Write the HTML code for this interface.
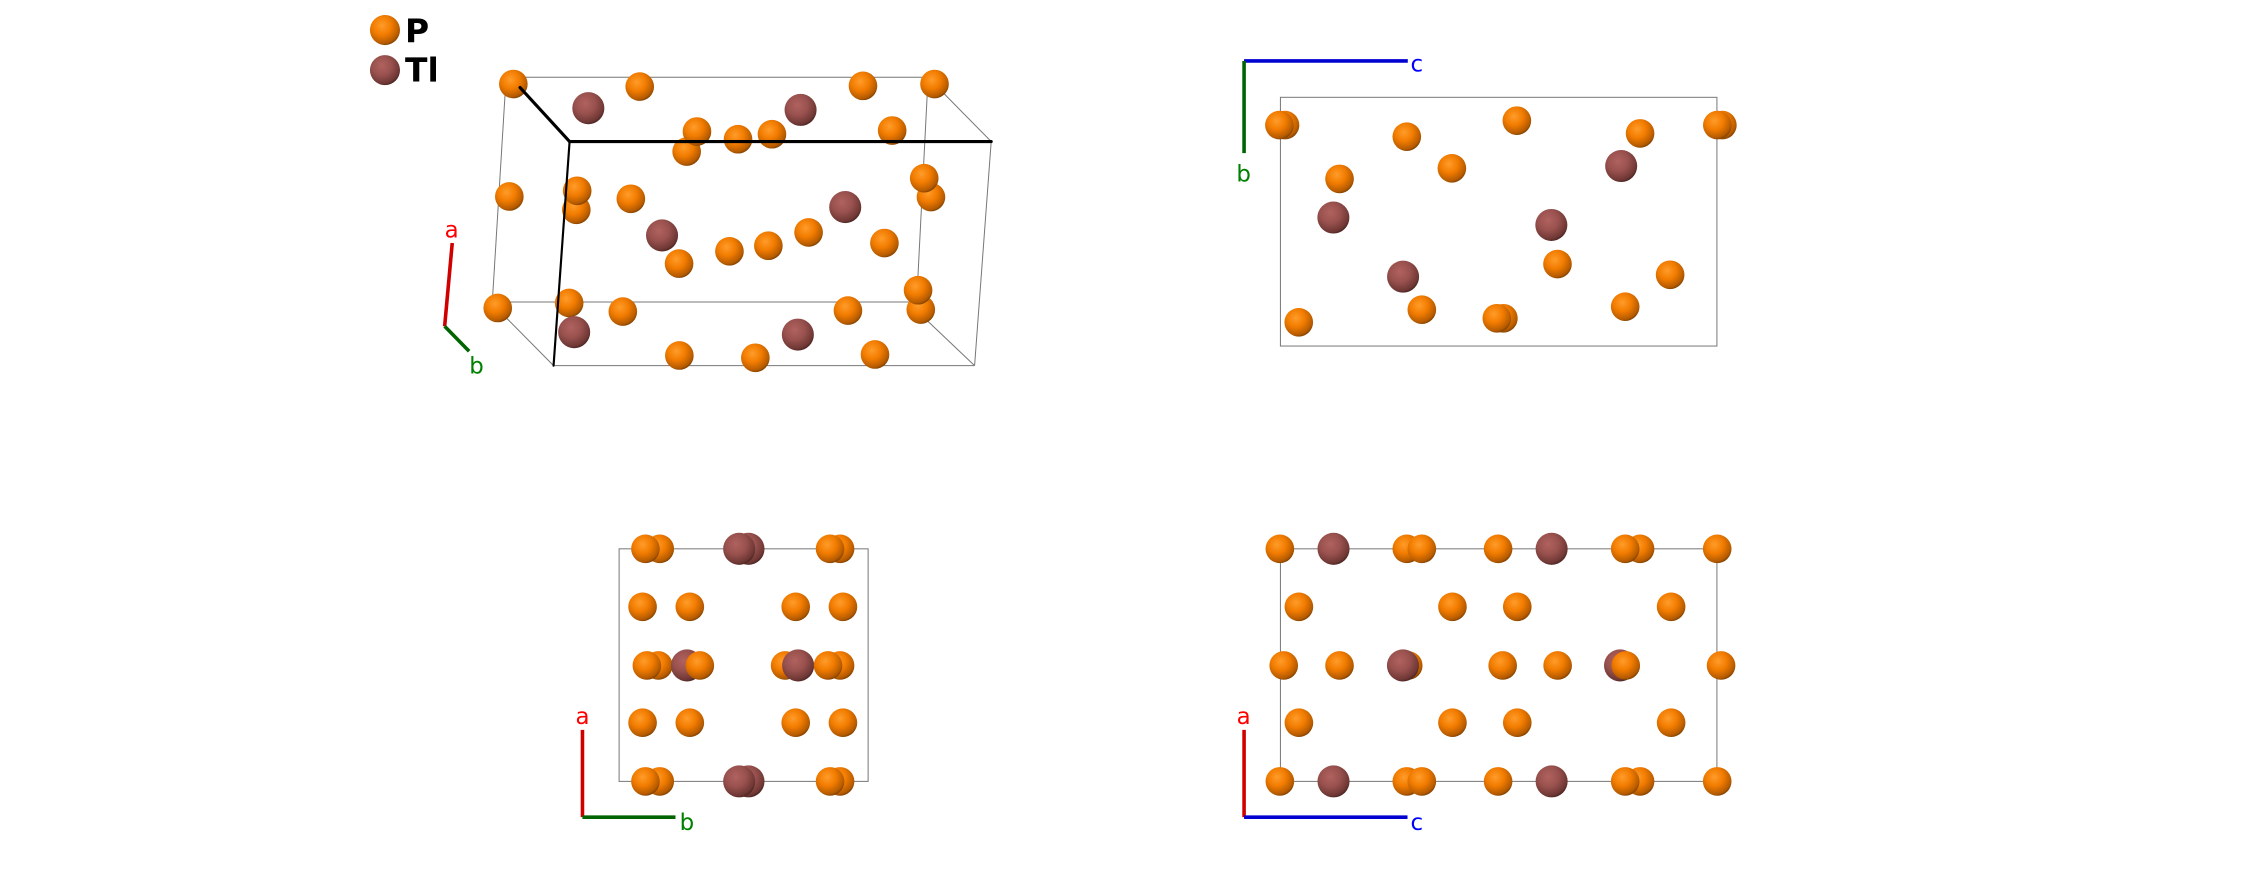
<!DOCTYPE html>
<html><head><meta charset="utf-8"><style>html,body{margin:0;padding:0;background:#fff;}svg{display:block;}</style></head>
<body>
<svg width="2244" height="888" viewBox="0 0 1568 620.5" preserveAspectRatio="none" xmlns="http://www.w3.org/2000/svg" font-family="'DejaVu Sans','Liberation Sans',sans-serif">
<defs>
<radialGradient id="gp" cx="0.4" cy="0.35" r="0.7">
<stop offset="0" stop-color="#ff9c2a"/><stop offset="0.45" stop-color="#f27c00"/><stop offset="0.85" stop-color="#b45a00"/><stop offset="1" stop-color="#6e3800"/></radialGradient>
<radialGradient id="gt" cx="0.4" cy="0.35" r="0.7">
<stop offset="0" stop-color="#b0625f"/><stop offset="0.45" stop-color="#9a524f"/><stop offset="0.85" stop-color="#6e3734"/><stop offset="1" stop-color="#3e1e1c"/></radialGradient>
<symbol id="P" viewBox="-10 -10 20 20" overflow="visible"><circle r="10" fill="url(#gp)"/><circle cx="-1.2" cy="-1.5" r="0.7" fill="#ffd9a8"/></symbol>
<symbol id="T" viewBox="-11.2 -11.2 22.4 22.4" overflow="visible"><circle r="11.2" fill="url(#gt)"/><circle cx="-1.3" cy="-1.6" r="0.7" fill="#e0b0ae"/></symbol>
</defs>
<style>.p{fill:url(#gp)}.t{fill:url(#gt)}</style>

<!-- legend -->
<circle class="p" cx="269" cy="21" r="10.5"/>
<circle class="t" cx="269" cy="49" r="10.5"/>
<text x="283" y="29.8" font-size="23" font-weight="bold" fill="#000">P</text>
<text x="283" y="57" font-size="23" font-weight="bold" fill="#000">Tl</text>

<!-- panel 1 thin box lines -->
<g stroke="#777" stroke-width="0.7" fill="none">
<line x1="359" y1="54" x2="653" y2="54"/>
<line x1="353.4" y1="58" x2="344" y2="211"/>
<line x1="348" y1="211" x2="643" y2="211"/>
<line x1="648.3" y1="58" x2="640.5" y2="211"/>
<line x1="692.6" y1="98.9" x2="681" y2="255.5"/>
<line x1="386.8" y1="255.5" x2="681" y2="255.5"/>
<line x1="653" y1="58.7" x2="692.6" y2="98.9"/>
<line x1="350.3" y1="218.6" x2="386.8" y2="255.5"/>
<line x1="646.8" y1="223" x2="681" y2="255.5"/>
</g>
<!-- panel 1 atoms -->
<g>
<circle class="p" cx="358.7" cy="58.7" r="10"/>
<circle class="p" cx="447" cy="60.5" r="10"/>
<circle class="p" cx="603" cy="60" r="10"/>
<circle class="p" cx="653" cy="58.7" r="10"/>
<circle class="t" cx="411.1" cy="75.6" r="11.2"/>
<circle class="t" cx="559.4" cy="76.8" r="11.2"/>
<circle class="p" cx="479.8" cy="105.9" r="10"/>
<circle class="p" cx="487" cy="91.9" r="10"/>
<circle class="p" cx="515.7" cy="97.3" r="10"/>
<circle class="p" cx="539.4" cy="93.8" r="10"/>
<circle class="p" cx="623.4" cy="91.2" r="10"/>
<circle class="p" cx="355.9" cy="137.3" r="10"/>
<circle class="p" cx="402.7" cy="146.6" r="10"/>
<circle class="p" cx="403.3" cy="133.3" r="10"/>
<circle class="p" cx="440.8" cy="138.9" r="10"/>
<circle class="p" cx="650.5" cy="137.7" r="10"/>
<circle class="p" cx="645.8" cy="124.5" r="10"/>
<circle class="t" cx="590.6" cy="144.7" r="11.2"/>
<circle class="t" cx="462.6" cy="164.5" r="11.2"/>
<circle class="p" cx="474.5" cy="184.2" r="10"/>
<circle class="p" cx="509.7" cy="175.6" r="10"/>
<circle class="p" cx="536.9" cy="171.7" r="10"/>
<circle class="p" cx="565" cy="162.4" r="10"/>
<circle class="p" cx="618" cy="169.8" r="10"/>
<circle class="p" cx="347.8" cy="215.2" r="10"/>
<circle class="p" cx="397.7" cy="211.7" r="10"/>
<circle class="p" cx="435.2" cy="217.7" r="10"/>
<circle class="p" cx="592.5" cy="217" r="10"/>
<circle class="p" cx="643.4" cy="216.3" r="10"/>
<circle class="p" cx="641.5" cy="202.8" r="10"/>
<circle class="t" cx="401.2" cy="232.1" r="11.2"/>
<circle class="t" cx="557.5" cy="233.8" r="11.2"/>
<circle class="p" cx="474.7" cy="248.4" r="10"/>
<circle class="p" cx="527.8" cy="250" r="10"/>
<circle class="p" cx="611.4" cy="247.7" r="10"/>
</g>
<!-- panel 1 black lines -->
<g stroke="#000" stroke-width="2.2" fill="none" stroke-linecap="round">
<line x1="363.4" y1="61.2" x2="398" y2="98.9"/>
<line x1="398" y1="98.9" x2="692.6" y2="98.9"/>
<line x1="398" y1="98.9" x2="386.8" y2="255.5" stroke-width="1.5"/>
</g>
<!-- panel 1 axes -->
<line x1="316" y1="169.8" x2="310.7" y2="228" stroke="#d00000" stroke-width="2.5"/>
<line x1="310.7" y1="228" x2="327.8" y2="245.4" stroke="#006400" stroke-width="2.5"/>
<text x="315.6" y="165.8" font-size="16" fill="#ff0000" text-anchor="middle">a</text>
<text x="333" y="261" font-size="16" fill="#008000" text-anchor="middle">b</text>

<!-- panel 2 -->
<rect x="894.7" y="68" width="305" height="173.8" fill="none" stroke="#777" stroke-width="0.7"/>
<line x1="869.3" y1="42.6" x2="983.7" y2="42.6" stroke="#0000d0" stroke-width="2.5"/>
<line x1="869.3" y1="42.6" x2="869.3" y2="107" stroke="#006400" stroke-width="2.5"/>
<text x="990" y="50" font-size="16" fill="#0000ff" text-anchor="middle">c</text>
<text x="869" y="127" font-size="16" fill="#008000" text-anchor="middle">b</text>
<g>
<circle class="p" cx="897.9" cy="87.4" r="10"/>
<circle class="p" cx="894" cy="87.4" r="10"/>
<circle class="p" cx="983" cy="95.5" r="10"/>
<circle class="p" cx="1059.9" cy="84.3" r="10"/>
<circle class="p" cx="1146" cy="93.2" r="10"/>
<circle class="p" cx="1203.5" cy="87.4" r="10"/>
<circle class="p" cx="1200" cy="87.4" r="10"/>
<circle class="p" cx="1014.5" cy="117.6" r="10"/>
<circle class="t" cx="1132.8" cy="116" r="11.2"/>
<circle class="p" cx="936" cy="125" r="10"/>
<circle class="t" cx="931.7" cy="152" r="11.2"/>
<circle class="t" cx="1084" cy="157.2" r="11.2"/>
<circle class="p" cx="1088.3" cy="184.5" r="10"/>
<circle class="p" cx="1167" cy="192" r="10"/>
<circle class="t" cx="980.4" cy="193.3" r="11.2"/>
<circle class="p" cx="993.5" cy="216.4" r="10"/>
<circle class="p" cx="1050.5" cy="222.4" r="10"/>
<circle class="p" cx="1045.9" cy="222.4" r="10"/>
<circle class="p" cx="1135.6" cy="214.3" r="10"/>
<circle class="p" cx="907.5" cy="225.2" r="10"/>
</g>

<!-- panel 3 -->
<rect x="432.6" y="383.5" width="174" height="162.5" fill="none" stroke="#777" stroke-width="0.7"/>
<g>
<circle class="p" cx="461" cy="383.5" r="10"/><circle class="p" cx="451" cy="383.5" r="10"/>
<circle class="t" cx="523" cy="383.5" r="11.2"/><circle class="t" cx="516.5" cy="383.5" r="11.2"/>
<circle class="p" cx="587" cy="383.5" r="10"/><circle class="p" cx="580" cy="383.5" r="10"/>
<circle class="p" cx="449" cy="424" r="10"/><circle class="p" cx="482" cy="424" r="10"/><circle class="p" cx="556" cy="424" r="10"/><circle class="p" cx="589" cy="424" r="10"/>
<circle class="p" cx="460" cy="465" r="10"/><circle class="p" cx="452" cy="465" r="10"/>
<circle class="t" cx="480" cy="465" r="11.2"/><circle class="p" cx="489" cy="465" r="10"/>
<circle class="p" cx="548.6" cy="465" r="10"/><circle class="t" cx="557.7" cy="465" r="11.2"/>
<circle class="p" cx="587" cy="465" r="10"/><circle class="p" cx="578.6" cy="465" r="10"/>
<circle class="p" cx="449" cy="505" r="10"/><circle class="p" cx="482" cy="505" r="10"/><circle class="p" cx="556" cy="505" r="10"/><circle class="p" cx="589" cy="505" r="10"/>
<circle class="p" cx="461" cy="546" r="10"/><circle class="p" cx="451" cy="546" r="10"/>
<circle class="t" cx="523" cy="546" r="11.2"/><circle class="t" cx="516.5" cy="546" r="11.2"/>
<circle class="p" cx="587" cy="546" r="10"/><circle class="p" cx="580" cy="546" r="10"/>
</g>
<line x1="407" y1="510" x2="407" y2="571" stroke="#d00000" stroke-width="2.5"/>
<line x1="407" y1="571" x2="472" y2="571" stroke="#006400" stroke-width="2.5"/>
<text x="407" y="506" font-size="16" fill="#ff0000" text-anchor="middle">a</text>
<text x="480" y="580" font-size="16" fill="#008000" text-anchor="middle">b</text>

<!-- panel 4 -->
<rect x="894.7" y="383.5" width="305" height="162.5" fill="none" stroke="#777" stroke-width="0.7"/>
<g>
<circle class="p" cx="894.3" cy="383.5" r="10"/><circle class="t" cx="931.8" cy="383.5" r="11.2"/>
<circle class="p" cx="983" cy="383.5" r="10"/><circle class="p" cx="993.5" cy="383.5" r="10"/>
<circle class="p" cx="1046.8" cy="383.5" r="10"/><circle class="t" cx="1084.2" cy="383.5" r="11.2"/>
<circle class="p" cx="1146" cy="383.5" r="10"/><circle class="p" cx="1135.6" cy="383.5" r="10"/>
<circle class="p" cx="1199.9" cy="383.5" r="10"/>
<circle class="p" cx="907.6" cy="424" r="10"/><circle class="p" cx="1014.9" cy="424" r="10"/><circle class="p" cx="1060.2" cy="424" r="10"/><circle class="p" cx="1167.7" cy="424" r="10"/>
<circle class="p" cx="897" cy="465" r="10"/><circle class="p" cx="936" cy="465" r="10"/>
<circle class="p" cx="984" cy="465" r="10"/><circle class="t" cx="980.3" cy="465" r="11.2"/>
<circle class="p" cx="1050" cy="465" r="10"/><circle class="p" cx="1088.4" cy="465" r="10"/>
<circle class="t" cx="1132" cy="465" r="11.2"/><circle class="p" cx="1136" cy="465" r="10"/>
<circle class="p" cx="1202.6" cy="465" r="10"/>
<circle class="p" cx="907.6" cy="505" r="10"/><circle class="p" cx="1014.9" cy="505" r="10"/><circle class="p" cx="1060.2" cy="505" r="10"/><circle class="p" cx="1167.7" cy="505" r="10"/>
<circle class="p" cx="894.3" cy="546" r="10"/><circle class="t" cx="931.8" cy="546" r="11.2"/>
<circle class="p" cx="983" cy="546" r="10"/><circle class="p" cx="993.5" cy="546" r="10"/>
<circle class="p" cx="1046.8" cy="546" r="10"/><circle class="t" cx="1084.2" cy="546" r="11.2"/>
<circle class="p" cx="1146" cy="546" r="10"/><circle class="p" cx="1135.6" cy="546" r="10"/>
<circle class="p" cx="1199.9" cy="546" r="10"/>
</g>
<line x1="869.3" y1="510" x2="869.3" y2="571" stroke="#d00000" stroke-width="2.5"/>
<line x1="869.3" y1="571" x2="983.5" y2="571" stroke="#0000d0" stroke-width="2.5"/>
<text x="869" y="506" font-size="16" fill="#ff0000" text-anchor="middle">a</text>
<text x="990" y="580" font-size="16" fill="#0000ff" text-anchor="middle">c</text>
</svg>
</body></html>
